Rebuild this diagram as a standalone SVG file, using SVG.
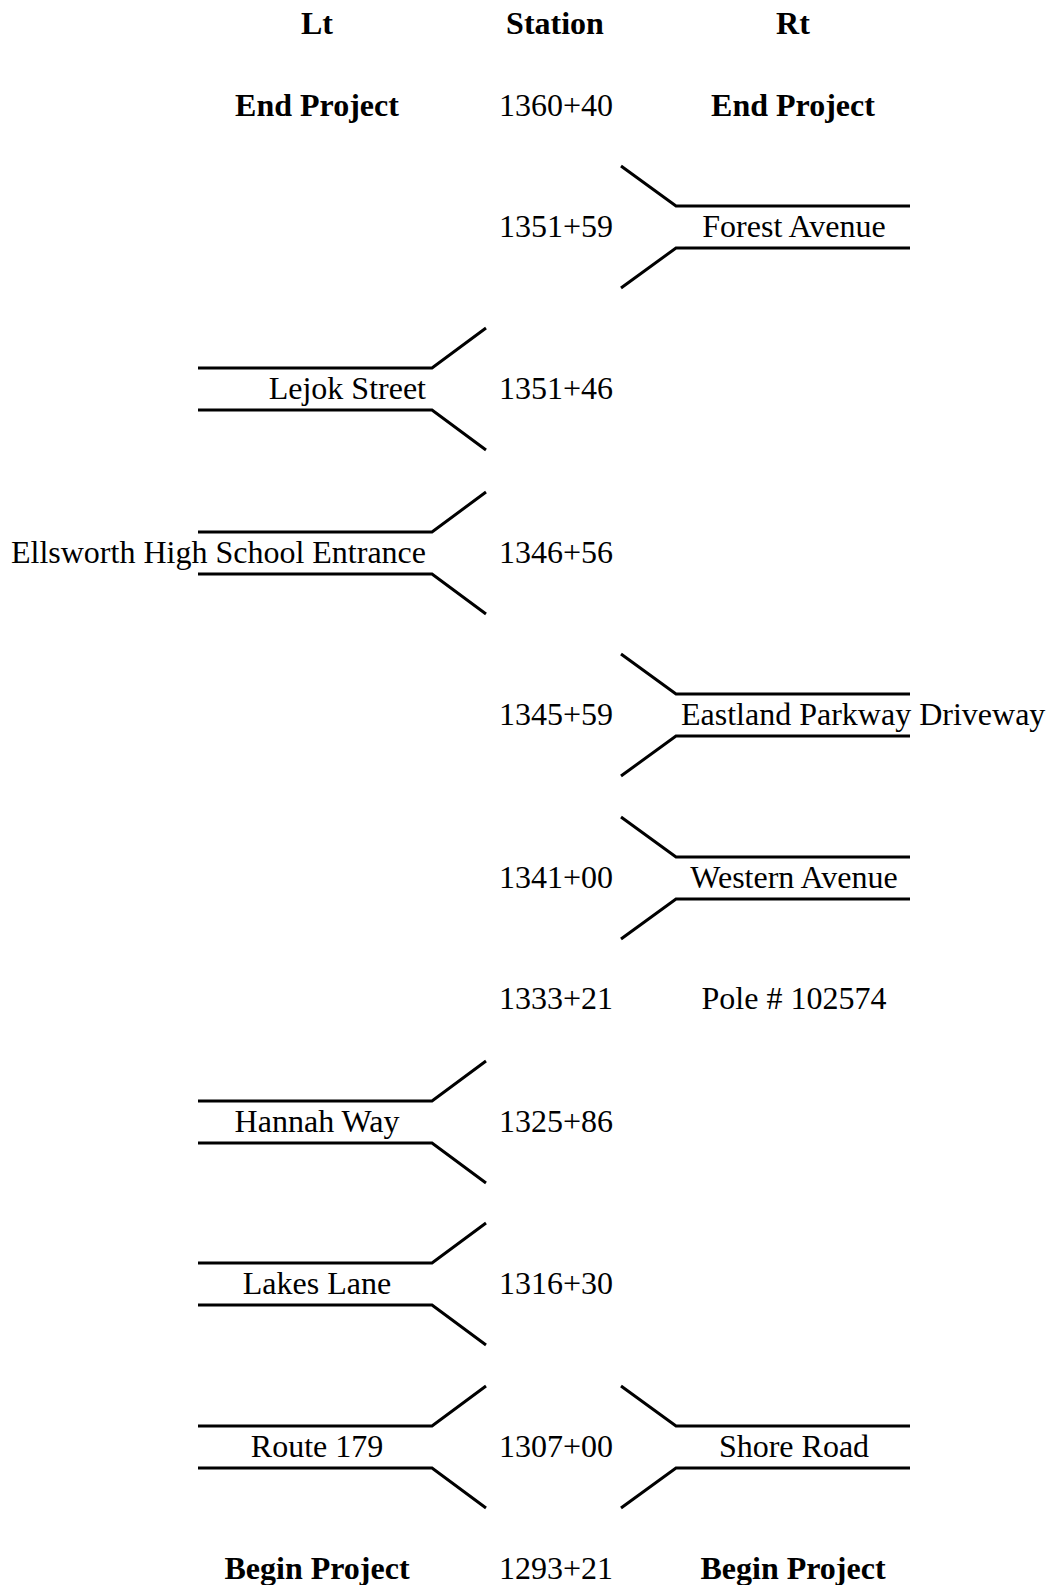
<svg xmlns="http://www.w3.org/2000/svg" width="1049" height="1585" viewBox="0 0 1049 1585">
<style>
text{font-family:"Liberation Serif","Times New Roman",serif;font-size:32px;fill:#000}
.b{font-weight:bold}
.m{text-anchor:middle}
.e{text-anchor:end}
.s{text-anchor:start}
.r{fill:none;stroke:#000;stroke-width:3}
</style>
<defs>
<path id="rt" class="r" d="M621,-61 L676,-21 L910,-21 M621,61 L676,21 L910,21"/>
<path id="lt" class="r" d="M486,-61 L432,-21 L198,-21 M486,61 L432,21 L198,21"/>
</defs>
<g id="connectors">
<use href="#rt" transform="translate(0,227)"/>
<use href="#lt" transform="translate(0,389)"/>
<use href="#lt" transform="translate(0,553)"/>
<use href="#rt" transform="translate(0,715)"/>
<use href="#rt" transform="translate(0,878)"/>
<use href="#lt" transform="translate(0,1122)"/>
<use href="#lt" transform="translate(0,1284)"/>
<use href="#lt" transform="translate(0,1447)"/>
<use href="#rt" transform="translate(0,1447)"/>
</g>
<g id="header">
<text class="b m" x="317" y="34">Lt</text>
<text class="b m" x="555" y="34">Station</text>
<text class="b m" x="793" y="34">Rt</text>
</g>
<g id="row-1360-40">
<text class="b m" x="317" y="116">End Project</text>
<text class="m" x="556" y="116">1360+40</text>
<text class="b m" x="793" y="116">End Project</text>
</g>
<g id="row-1351-59">
<text class="m" x="556" y="237">1351+59</text>
<text class="m" x="794" y="237">Forest Avenue</text>
</g>
<g id="row-1351-46">
<text class="e" x="426" y="399">Lejok Street</text>
<text class="m" x="556" y="399">1351+46</text>
</g>
<g id="row-1346-56">
<text class="e" x="426" y="563">Ellsworth High School Entrance</text>
<text class="m" x="556" y="563">1346+56</text>
</g>
<g id="row-1345-59">
<text class="m" x="556" y="725">1345+59</text>
<text class="s" x="681" y="725">Eastland Parkway Driveway</text>
</g>
<g id="row-1341-00">
<text class="m" x="556" y="888">1341+00</text>
<text class="m" x="794" y="888">Western Avenue</text>
</g>
<g id="row-1333-21">
<text class="m" x="556" y="1009">1333+21</text>
<text class="m" x="794" y="1009">Pole # 102574</text>
</g>
<g id="row-1325-86">
<text class="m" x="317" y="1132">Hannah Way</text>
<text class="m" x="556" y="1132">1325+86</text>
</g>
<g id="row-1316-30">
<text class="m" x="317" y="1294">Lakes Lane</text>
<text class="m" x="556" y="1294">1316+30</text>
</g>
<g id="row-1307-00">
<text class="m" x="317" y="1457">Route 179</text>
<text class="m" x="556" y="1457">1307+00</text>
<text class="m" x="794" y="1457">Shore Road</text>
</g>
<g id="row-1293-21">
<text class="b m" x="317" y="1579">Begin Project</text>
<text class="m" x="556" y="1579">1293+21</text>
<text class="b m" x="793" y="1579">Begin Project</text>
</g>
</svg>
